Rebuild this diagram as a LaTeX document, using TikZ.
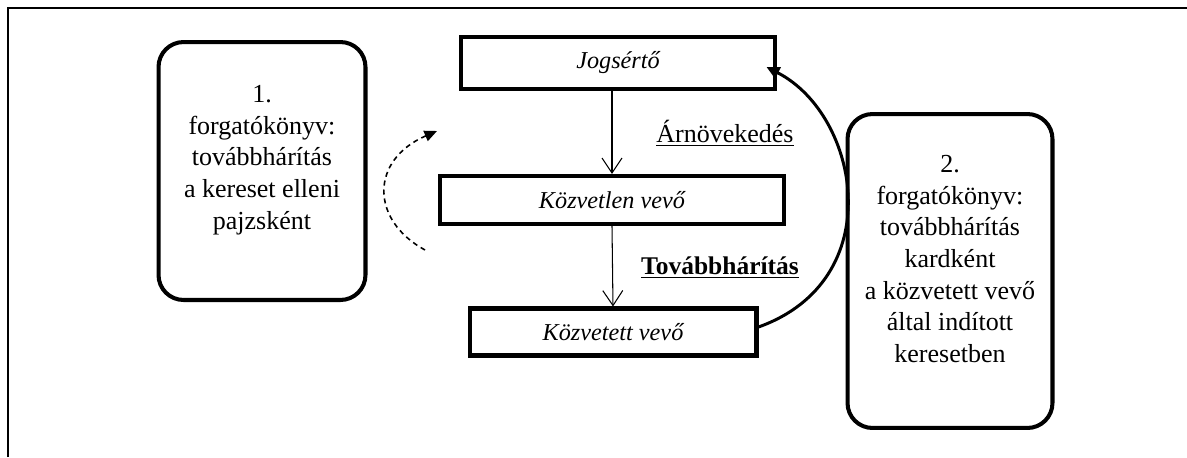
\documentclass[tikz,border=0pt]{standalone}
\usepackage{fontspec}
\setmainfont{Liberation Serif}
\usetikzlibrary{arrows.meta, positioning, calc}

\begin{document}
\begin{tikzpicture}[x=0.02cm, y=-0.02cm, font=\fontsize{14.8}{18}\selectfont,
    party/.style={draw, line width=2.3pt, inner sep=0pt, font=\fontsize{13.8}{18}\selectfont\itshape},
    scen/.style={draw, line width=2.3pt, rounded corners=0.5cm, inner sep=0pt},
    flow/.style={line width=0.6pt, -{Straight Barb[length=0.3cm,width=0.4cm]}}]
    \useasboundingbox (0,0) rectangle (1187,457);
    % frame
    \draw[line width=1.7pt] (8,457) -- (8,8) -- (1187,8);

    % chain of parties
    \node[party, minimum width=6.3cm, minimum height=1.05cm] (jog) at (618,63) {Jogsértő};
    \node[party, minimum width=6.9cm, minimum height=0.96cm] (kozvetlen) at (612,200) {Közvetlen vevő};
    \node[party, minimum width=5.74cm, minimum height=0.94cm] (kozvetett) at (613,332) {Közvetett vevő};

    % scenarios
    \node[scen, minimum width=4.14cm, minimum height=5.16cm] (sc1) at (262,171) {};
    \node[align=center] (sc1txt) at (262,160) {1.\\ forgatókönyv:\\ továbbhárítás\\ a kereset elleni\\ pajzsként};
    \node[scen, minimum width=4.1cm, minimum height=6.28cm] (sc2) at (950,271) {};
    \node[align=center] (sc2txt) at (950,259) {2.\\ forgatókönyv:\\ továbbhárítás\\ kardként\\ a közvetett vevő\\ által indított\\ keresetben};

    % labels
    \node (arn) at (725,133) {\underline{Árnövekedés}};
    \node[font=\fontsize{14.5}{18}\selectfont\bfseries] (tovabb) at (720,268) {\underline{Továbbhárítás}};

    % arrows
    \draw[flow] (jog.south -| kozvetlen.north) -- (kozvetlen.north);
    \draw[flow] (kozvetlen.south) -- (kozvetett.north);
    \coordinate (dstart) at (425,250);
    \coordinate (dend) at (437,131);
    \draw[line width=0.9pt, dash pattern=on 0.1cm off 0.08cm, -{Triangle[length=0.25cm,width=0.22cm]}]
        (dstart) .. controls (370,220) and (370,160) .. (dend);
    \draw[line width=1.7pt, -{Triangle[length=0.26cm,width=0.24cm]}]
        ([yshift=0.1cm]kozvetett.east) .. controls (890,280) and (860,115) .. ([xshift=-0.22cm,yshift=-0.08cm]jog.east);
\end{tikzpicture}
\end{document}
